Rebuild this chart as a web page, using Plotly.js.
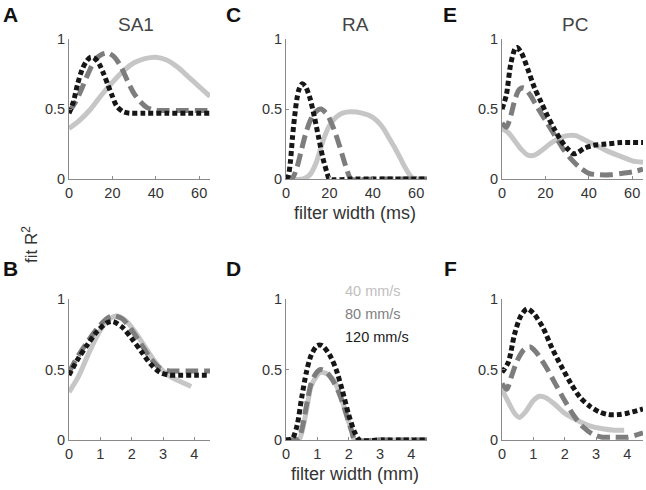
<!DOCTYPE html>
<html><head><meta charset="utf-8">
<script src="https://cdn.plot.ly/plotly-3.0.1.min.js"></script>
<style>html,body{margin:0;padding:0;background:#fff}#chart{width:646px;height:490px}</style>
</head><body><div id="chart"></div>
<script>
// ---- data ----
const panelTitles = ["SA1", "RA", "PC"];
const panelLetters = ["A", "C", "E", "B", "D", "F"];
const speedLabels = ["40 mm/s", "80 mm/s", "120 mm/s"];
const yTicks = [0, 0.5, 1];
const msTicks = [0, 20, 40, 60];
const mmTicks = [0, 1, 2, 3, 4];

// SA1, time (ms)
const sa1_ms_40_x = [0,5,10,15,20,25,30,35,40,45,50,55,60,65];
const sa1_ms_40_y = [0.36,0.42,0.5,0.6,0.69,0.77,0.83,0.86,0.87,0.85,0.8,0.73,0.66,0.59];
const sa1_ms_80_x = [0,3,6,9,12,15,18,21,24,27,30,33,36,40,45,50,55,60,65];
const sa1_ms_80_y = [0.48,0.55,0.65,0.76,0.85,0.89,0.9,0.87,0.8,0.7,0.61,0.55,0.51,0.49,0.49,0.49,0.49,0.49,0.49];
const sa1_ms_120_x = [0,2,4,6,8,10,12,14,16,18,20,22,25,28,35,45,55,65];
const sa1_ms_120_y = [0.47,0.55,0.68,0.78,0.84,0.87,0.86,0.82,0.75,0.67,0.59,0.52,0.48,0.47,0.47,0.47,0.47,0.47];

// RA, time (ms)
const ra_ms_40_x = [0,8,11,14,17,20,23,26,30,35,40,44,48,52,55,58,60,65];
const ra_ms_40_y = [0,0,0.03,0.12,0.27,0.38,0.44,0.47,0.48,0.47,0.44,0.38,0.28,0.17,0.08,0.01,0,0];
const ra_ms_80_x = [0,3,5,7,9,11,13,16,19,22,25,28,30,40,50,65];
const ra_ms_80_y = [0,0.01,0.08,0.2,0.32,0.41,0.47,0.5,0.46,0.36,0.22,0.07,0,0,0,0];
const ra_ms_120_x = [0,1,2,3,4,5,6,7.5,9,11,13,15,17,19,20,30,40,50,65];
const ra_ms_120_y = [0,0.02,0.12,0.3,0.45,0.57,0.64,0.68,0.66,0.58,0.45,0.3,0.15,0.04,0,0,0,0,0];

// PC, time (ms)
const pc_ms_40_x = [0,3,6,9,12,15,18,22,26,30,34,38,42,46,50,55,60,65];
const pc_ms_40_y = [0.36,0.33,0.27,0.21,0.17,0.17,0.2,0.25,0.29,0.31,0.31,0.28,0.25,0.22,0.19,0.16,0.13,0.12];
const pc_ms_80_x = [0,2,4,6,8,10,13,16,20,24,28,32,36,40,45,50,55,60,65];
const pc_ms_80_y = [0.4,0.37,0.45,0.57,0.64,0.65,0.6,0.52,0.42,0.32,0.22,0.14,0.08,0.04,0.03,0.03,0.04,0.05,0.07];
const pc_ms_120_x = [0,2,4,6,7,9,12,15,18,21,24,27,30,33,35,38,42,48,55,65];
const pc_ms_120_y = [0.5,0.6,0.82,0.93,0.94,0.9,0.78,0.65,0.55,0.45,0.36,0.28,0.22,0.18,0.19,0.22,0.24,0.25,0.26,0.26];

// SA1, space (mm)
const sa1_mm_40_x = [0,0.3,0.6,0.9,1.2,1.5,1.8,2.1,2.4,2.7,3.0,3.3,3.6,3.9];
const sa1_mm_40_y = [0.34,0.45,0.6,0.74,0.84,0.88,0.85,0.77,0.67,0.57,0.49,0.44,0.41,0.38];
const sa1_mm_80_x = [0,0.3,0.6,0.9,1.2,1.4,1.7,2.0,2.3,2.6,2.9,3.2,3.5,4.0,4.5];
const sa1_mm_80_y = [0.48,0.6,0.7,0.79,0.86,0.88,0.86,0.78,0.68,0.58,0.51,0.49,0.49,0.49,0.49];
const sa1_mm_120_x = [0,0.3,0.6,0.9,1.2,1.4,1.7,2.0,2.3,2.6,2.9,3.2,3.5,4.0,4.5];
const sa1_mm_120_y = [0.46,0.58,0.68,0.77,0.83,0.84,0.8,0.72,0.63,0.54,0.48,0.46,0.46,0.46,0.46];

// RA, space (mm)
const ra_mm_40_x = [0,0.4,0.5,0.6,0.7,0.8,1.0,1.1,1.3,1.5,1.7,1.9,2.1,2.2,3,4.5];
const ra_mm_40_y = [0,0,0.05,0.15,0.27,0.38,0.46,0.48,0.47,0.43,0.34,0.2,0.06,0,0,0];
const ra_mm_80_x = [0,0.4,0.5,0.6,0.7,0.8,0.95,1.1,1.3,1.5,1.7,1.9,2.1,2.2,3,4.5];
const ra_mm_80_y = [0,0.01,0.07,0.18,0.3,0.4,0.47,0.5,0.48,0.42,0.33,0.2,0.06,0,0,0];
const ra_mm_120_x = [0,0.2,0.35,0.5,0.65,0.8,1.0,1.15,1.4,1.6,1.8,2.0,2.2,2.35,3,4.5];
const ra_mm_120_y = [0,0.01,0.1,0.3,0.48,0.6,0.67,0.67,0.6,0.5,0.35,0.18,0.05,0,0,0];

// PC, space (mm)
const pc_mm_40_x = [0,0.2,0.4,0.55,0.75,1.0,1.2,1.4,1.7,2.0,2.4,2.8,3.2,3.6,3.9];
const pc_mm_40_y = [0.36,0.27,0.19,0.16,0.2,0.28,0.31,0.3,0.25,0.19,0.14,0.1,0.08,0.07,0.07];
const pc_mm_80_x = [0,0.15,0.3,0.5,0.7,0.9,1.1,1.4,1.7,2.0,2.3,2.6,2.9,3.2,3.6,4.0,4.5];
const pc_mm_80_y = [0.4,0.36,0.45,0.57,0.64,0.66,0.62,0.52,0.4,0.28,0.17,0.09,0.04,0.02,0.02,0.02,0.05];
const pc_mm_120_x = [0,0.2,0.4,0.6,0.8,1.0,1.3,1.6,1.9,2.2,2.5,2.8,3.1,3.4,3.7,4.0,4.5];
const pc_mm_120_y = [0.48,0.55,0.75,0.88,0.93,0.9,0.8,0.65,0.52,0.4,0.3,0.24,0.2,0.18,0.18,0.19,0.22];

// ---- styles ----
const colors = ["#c6c6c6", "#7d7d7d", "#161616"];
const dashes = ["solid", "13px,6px", "5px,3px"];

const panels = [
  [[sa1_ms_40_x,sa1_ms_40_y],[sa1_ms_80_x,sa1_ms_80_y],[sa1_ms_120_x,sa1_ms_120_y]],
  [[ra_ms_40_x,ra_ms_40_y],[ra_ms_80_x,ra_ms_80_y],[ra_ms_120_x,ra_ms_120_y]],
  [[pc_ms_40_x,pc_ms_40_y],[pc_ms_80_x,pc_ms_80_y],[pc_ms_120_x,pc_ms_120_y]],
  [[sa1_mm_40_x,sa1_mm_40_y],[sa1_mm_80_x,sa1_mm_80_y],[sa1_mm_120_x,sa1_mm_120_y]],
  [[ra_mm_40_x,ra_mm_40_y],[ra_mm_80_x,ra_mm_80_y],[ra_mm_120_x,ra_mm_120_y]],
  [[pc_mm_40_x,pc_mm_40_y],[pc_mm_80_x,pc_mm_80_y],[pc_mm_120_x,pc_mm_120_y]]
];

const W = 646, H = 490;
const colPx = [[69,210],[286,427],[502,643]];
const rowPx = [[39,179],[299,440]];

const traces = [];
const layout = {
  width: W, height: H, margin: {l:0,r:0,t:0,b:0},
  paper_bgcolor: "#fff", plot_bgcolor: "rgba(0,0,0,0)",
  showlegend: false,
  font: {family: "Liberation Sans, Arial, sans-serif", color: "#333"},
  annotations: []
};

panels.forEach((p, i) => {
  const r = Math.floor(i/3), c = i%3;
  const n = i+1;
  const xa = n===1 ? "x" : "x"+n, ya = n===1 ? "y" : "y"+n;
  const xk = n===1 ? "xaxis" : "xaxis"+n, yk = n===1 ? "yaxis" : "yaxis"+n;
  p.forEach((s, k) => {
    traces.push({x: s[0], y: s[1], xaxis: xa, yaxis: ya, type: "scatter", mode: "lines",
      line: {color: colors[k], width: 5, dash: dashes[k], shape: "spline", smoothing: 0.8},
      hoverinfo: "skip"});
  });
  const ms = r === 0;
  layout[xk] = {
    domain: [colPx[c][0]/W, colPx[c][1]/W], anchor: ya,
    range: ms ? [0,65] : [0,4.5],
    tickvals: ms ? msTicks : mmTicks,
    showline: true, linecolor: "#8a8a8a", linewidth: 1,
    ticks: "inside", ticklen: 3, tickcolor: "#8a8a8a",
    showgrid: false, zeroline: false, ticklabelstandoff: 1,
    tickfont: {size: 14.5, color: "#333"}
  };
  layout[yk] = {
    domain: [1 - rowPx[r][1]/H, 1 - rowPx[r][0]/H], anchor: xa,
    range: [0,1], tickvals: yTicks, ticktext: ["0","0.5","1"],
    showline: true, linecolor: "#8a8a8a", linewidth: 1,
    ticks: "inside", ticklen: 3, tickcolor: "#8a8a8a",
    showgrid: false, zeroline: false,
    tickfont: {size: 14.5, color: "#333"}
  };
});

const letterPos = [[10,14],[233,14],[450,14],[10,268],[233,268],[450,268]];
panelLetters.forEach((t, i) => {
  layout.annotations.push({text: "<b>"+t+"</b>", xref:"paper", yref:"paper",
    x: letterPos[i][0]/W, y: 1-letterPos[i][1]/H, xanchor:"center", yanchor:"middle",
    showarrow:false, font:{size:21, color:"#111"}});
});
const titleX = [136, 355, 575];
panelTitles.forEach((t, i) => {
  layout.annotations.push({text: t, xref:"paper", yref:"paper",
    x: titleX[i]/W, y: 1-24/H, xanchor:"center", yanchor:"middle",
    showarrow:false, font:{size:19, color:"#444"}});
});
layout.annotations.push({text: "fit R<sup>2</sup>", xref:"paper", yref:"paper",
  x: 30/W, y: 1-245/H, xanchor:"center", yanchor:"middle", textangle:-90,
  showarrow:false, font:{size:17, color:"#333"}});
layout.annotations.push({text: "filter width (ms)", xref:"paper", yref:"paper",
  x: 355/W, y: 1-213/H, xanchor:"center", yanchor:"middle",
  showarrow:false, font:{size:18, color:"#333"}});
layout.annotations.push({text: "filter width (mm)", xref:"paper", yref:"paper",
  x: 355/W, y: 1-474/H, xanchor:"center", yanchor:"middle",
  showarrow:false, font:{size:18, color:"#333"}});
const legY = [291, 314, 337];
const legColors = ["#c0c0c0", "#808080", "#1a1a1a"];
speedLabels.forEach((t, i) => {
  layout.annotations.push({text: t, xref:"paper", yref:"paper",
    x: 343/W, y: 1-legY[i]/H, xanchor:"left", yanchor:"middle",
    showarrow:false, font:{size:14.5, color: legColors[i]}});
});

Plotly.newPlot("chart", traces, layout, {staticPlot: true});
</script></body></html>
